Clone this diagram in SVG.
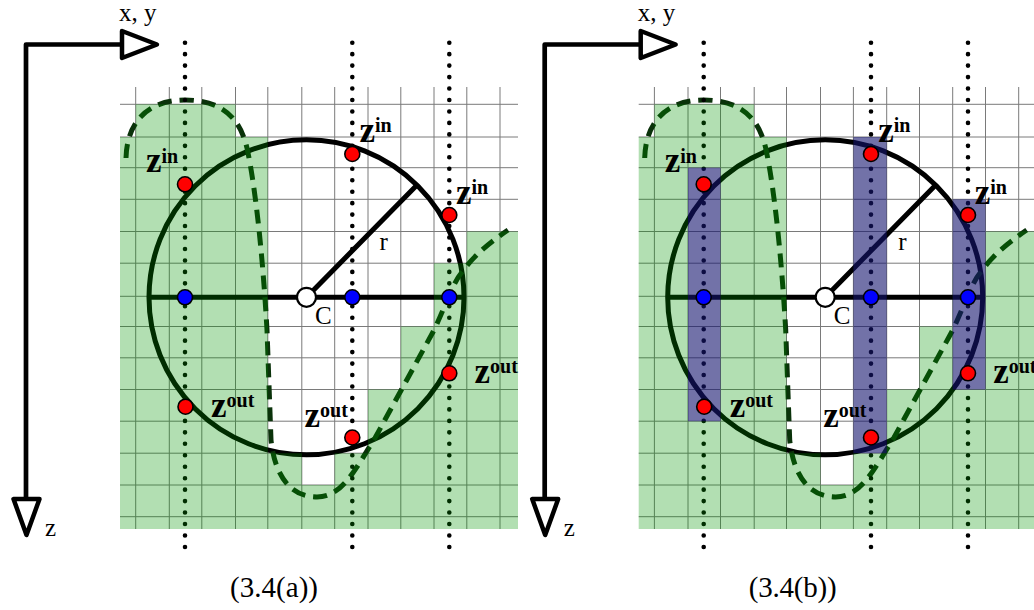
<svg xmlns="http://www.w3.org/2000/svg" width="1034" height="610" viewBox="0 0 1034 610">
<style>
.grid{fill:none;stroke:#7a7a7a;stroke-width:1}
.thick{fill:none;stroke:#000;stroke-width:5}
.axis{fill:none;stroke:#000;stroke-width:4.7;stroke-linejoin:round}
.tri{fill:#fff;stroke:#000;stroke-width:4.5;stroke-linejoin:round}
.dash{fill:none;stroke:#0a320a;stroke-width:5;stroke-dasharray:14 8}
.dot{fill:none;stroke:#000;stroke-width:4.6;stroke-linecap:round;stroke-dasharray:0 11.46}
.green{fill:rgb(0,150,0);fill-opacity:0.3}
.blue{fill:rgb(20,20,110);fill-opacity:0.6}
.red{fill:#f00;stroke:#000;stroke-width:1.6}
.bl{fill:#00f;stroke:#000;stroke-width:1.6}
.ctr{fill:#fff;stroke:#000;stroke-width:2.2}
.zl{font-family:"Liberation Serif",serif;font-weight:bold;font-size:35px;fill:#000}
.sup{font-size:20px}
.lab{font-family:"Liberation Serif",serif;font-size:25px;fill:#000}
.cap{font-family:"Liberation Serif",serif;font-size:29px;fill:#000}
</style>
<defs>
<mask id="mR" maskUnits="userSpaceOnUse" x="0" y="0" width="1034" height="610">
<rect x="0" y="0" width="1034" height="610" fill="#fff"/>
<rect x="169.3" y="167.7" width="32.5" height="253.5" fill="#000"/>
<rect x="334.7" y="137" width="33.3" height="316.2" fill="#000"/>
<rect x="434" y="199.3" width="32.8" height="190.2" fill="#000"/>
</mask>
</defs>
<rect x="0" y="0" width="1034" height="610" fill="#fff"/>

<!-- Left panel -->
<g id="panel-a">
<g id="a-lines">
<path class="grid" d="M135.7,87V529M169.3,87V529M201.8,87V529M235.5,87V529M267.8,87V529M301.8,87V529M334.7,87V529M368,87V529M400.8,87V529M434,87V529M466.8,87V529M500,87V529M120,104.3H518M120,137H518M120,167.7H518M120,199.3H518M120,231.5H518M120,263.2H518M120,296.3H518M120,326.5H518M120,357.8H518M120,389.5H518M120,421.2H518M120,453.2H518M120,485H518M120,516.7H518"/>
<circle class="thick" cx="306.5" cy="297.3" r="157.5"/>
<path class="thick" d="M149,297.3H464M306.5,297.3L417,185"/>
<path class="dash" d="M126,158C127,120 150,100 185,100C222,100 240,118 247,148C256,190 263,260 267,330L271,440C275,478 292,497 317,497C342,497 355,470 375,438L433,332C445,308 452,284 462,272C476,253 492,241 508,230"/>
<path class="dot" d="M185,42.7V558.3M352.3,42.7V558.3M449.3,42.7V558.3"/>
</g>
<path id="a-green" class="green" d="M135.7,104.3H235.5V137H267.8V453.2H301.8V485H334.7V453.2H368V389.5H400.8V326.5H434V263.2H466.8V231.5H518V529H120V137H135.7Z"/>
<g id="a-axes">
<path class="axis" d="M26,499V44.5H122"/>
<polygon class="tri" points="122,31 157,44.5 122,58"/>
<polygon class="tri" points="13.5,499 39.5,499 26.5,535"/>
<text class="lab" x="119" y="21">x, y</text>
<text class="lab" x="45" y="536">z</text>
</g>
<g id="a-points">
<circle class="red" cx="185" cy="184.3" r="7.5"/>
<circle class="red" cx="352.3" cy="154" r="7.5"/>
<circle class="red" cx="449.3" cy="215" r="7.5"/>
<circle class="red" cx="185.5" cy="406.7" r="7.5"/>
<circle class="red" cx="352.3" cy="437.5" r="7.5"/>
<circle class="red" cx="449.3" cy="373.3" r="7.5"/>
<circle class="bl" cx="185" cy="297.3" r="7.5"/>
<circle class="bl" cx="352.3" cy="297.3" r="7.5"/>
<circle class="bl" cx="449.3" cy="297.3" r="7.5"/>
<circle class="ctr" cx="306.5" cy="297.3" r="9.5"/>
</g>
<g id="a-labels">
<text class="zl" x="146" y="172">z<tspan class="sup" dy="-9">in</tspan></text>
<text class="zl" x="359.5" y="142">z<tspan class="sup" dy="-10">in</tspan></text>
<text class="zl" x="456" y="203.5">z<tspan class="sup" dy="-10">in</tspan></text>
<text class="zl" x="211" y="416.7">z<tspan class="sup" dy="-10">out</tspan></text>
<text class="zl" x="304.5" y="426.7">z<tspan class="sup" dy="-10">out</tspan></text>
<text class="zl" x="474.5" y="383.3">z<tspan class="sup" dy="-10">out</tspan></text>
<text class="lab" x="379.5" y="249.5">r</text>
<text class="lab" x="315" y="323.5">C</text>
<text class="cap" x="274" y="597" text-anchor="middle" textLength="88" lengthAdjust="spacing">(3.4(a))</text>
</g>
</g>

<!-- Right panel -->
<g id="panel-b" transform="translate(518.7,0)">
<g id="b-lines">
<path class="grid" d="M135.7,87V529M169.3,87V529M201.8,87V529M235.5,87V529M267.8,87V529M301.8,87V529M334.7,87V529M368,87V529M400.8,87V529M434,87V529M466.8,87V529M500,87V529M120,104.3H518M120,137H518M120,167.7H518M120,199.3H518M120,231.5H518M120,263.2H518M120,296.3H518M120,326.5H518M120,357.8H518M120,389.5H518M120,421.2H518M120,453.2H518M120,485H518M120,516.7H518"/>
<circle class="thick" cx="306.5" cy="297.3" r="157.5"/>
<path class="thick" d="M149,297.3H464M306.5,297.3L417,185"/>
<path class="dash" d="M126,158C127,120 150,100 185,100C222,100 240,118 247,148C256,190 263,260 267,330L271,440C275,478 292,497 317,497C342,497 355,470 375,438L433,332C445,308 452,284 462,272C476,253 492,241 508,230"/>
<path class="dot" d="M185,42.7V558.3M352.3,42.7V558.3M449.3,42.7V558.3"/>
</g>
<path id="b-green" class="green" mask="url(#mR)" d="M135.7,104.3H235.5V137H267.8V453.2H301.8V485H334.7V453.2H368V389.5H400.8V326.5H434V263.2H466.8V231.5H518V529H120V137H135.7Z"/>
<g id="b-cells">
<rect class="blue" x="169.3" y="167.7" width="32.5" height="253.5"/>
<rect class="blue" x="334.7" y="137" width="33.3" height="316.2"/>
<rect class="blue" x="434" y="199.3" width="32.8" height="190.2"/>
</g>
<g id="b-axes">
<path class="axis" d="M26,499V44.5H122"/>
<polygon class="tri" points="122,31 157,44.5 122,58"/>
<polygon class="tri" points="13.5,499 39.5,499 26.5,535"/>
<text class="lab" x="119" y="21">x, y</text>
<text class="lab" x="45" y="536">z</text>
</g>
<g id="b-points">
<circle class="red" cx="185" cy="184.3" r="7.5"/>
<circle class="red" cx="352.3" cy="154" r="7.5"/>
<circle class="red" cx="449.3" cy="215" r="7.5"/>
<circle class="red" cx="185.5" cy="406.7" r="7.5"/>
<circle class="red" cx="352.3" cy="437.5" r="7.5"/>
<circle class="red" cx="449.3" cy="373.3" r="7.5"/>
<circle class="bl" cx="185" cy="297.3" r="7.5"/>
<circle class="bl" cx="352.3" cy="297.3" r="7.5"/>
<circle class="bl" cx="449.3" cy="297.3" r="7.5"/>
<circle class="ctr" cx="306.5" cy="297.3" r="9.5"/>
</g>
<g id="b-labels">
<text class="zl" x="146" y="172">z<tspan class="sup" dy="-9">in</tspan></text>
<text class="zl" x="359.5" y="142">z<tspan class="sup" dy="-10">in</tspan></text>
<text class="zl" x="456" y="203.5">z<tspan class="sup" dy="-10">in</tspan></text>
<text class="zl" x="211" y="416.7">z<tspan class="sup" dy="-10">out</tspan></text>
<text class="zl" x="304.5" y="426.7">z<tspan class="sup" dy="-10">out</tspan></text>
<text class="zl" x="474.5" y="383.3">z<tspan class="sup" dy="-10">out</tspan></text>
<text class="lab" x="379.5" y="249.5">r</text>
<text class="lab" x="315" y="323.5">C</text>
<text class="cap" x="274" y="597" text-anchor="middle" textLength="88" lengthAdjust="spacing">(3.4(b))</text>
</g>
</g>
</svg>
